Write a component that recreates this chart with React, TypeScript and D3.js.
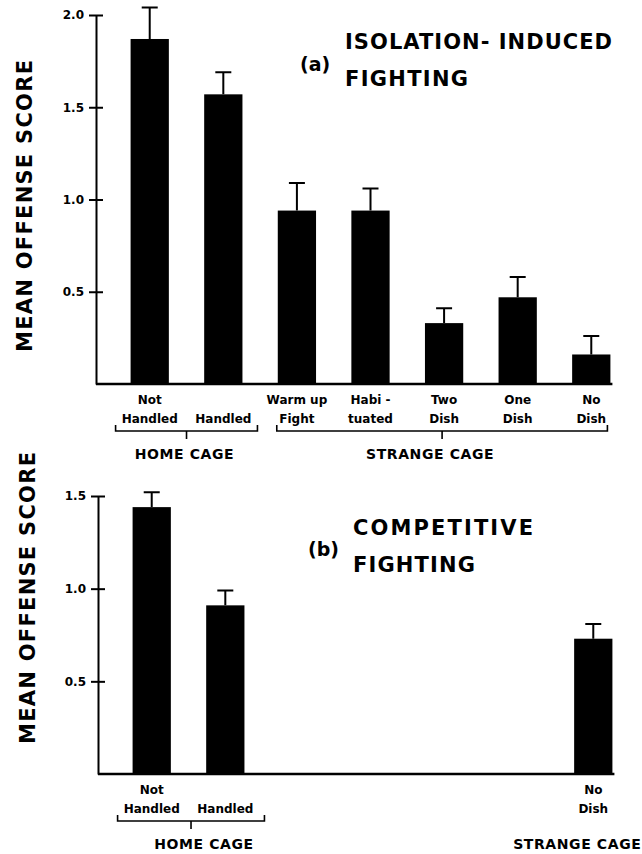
import React, { useEffect, useRef } from 'react';
import * as d3 from 'd3';

// the seven slots along the x axis (both panels share them)
const categories = ['Not Handled', 'Handled', 'Warm up Fight', 'Habituated', 'Two Dish', 'One Dish', 'No Dish'];
const categoryLines: Record<string, string[]> = {
  'Not Handled': ['Not', 'Handled'],
  'Handled': ['', 'Handled'],
  'Warm up Fight': ['Warm up', 'Fight'],
  'Habituated': ['Habi -', 'tuated'],
  'Two Dish': ['Two', 'Dish'],
  'One Dish': ['One', 'Dish'],
  'No Dish': ['No', 'Dish'],
};

// (a) isolation-induced fighting
const isolationCats = categories;
const isolationMeans = [1.87, 1.57, 0.94, 0.94, 0.33, 0.47, 0.16];
const isolationErrors = [0.17, 0.12, 0.15, 0.12, 0.08, 0.11, 0.10];
const isolationTicks = [0.5, 1.0, 1.5, 2.0];

// (b) competitive fighting
const competitiveCats = ['Not Handled', 'Handled', 'No Dish'];
const competitiveMeans = [1.44, 0.91, 0.73];
const competitiveErrors = [0.08, 0.08, 0.08];
const competitiveTicks = [0.5, 1.0, 1.5];

const FONT = '"DejaVu Sans", "Liberation Sans", sans-serif';

interface Group {
  name: string;
  first: string;
  last: string;
  bracket: boolean;
  padL: number;
  padR: number;
  shift: number;
}

interface Panel {
  cats: string[];
  means: number[];
  errs: number[];
  ticks: number[];
  yMax: number;
  axisX: number;
  yZero: number;
  yTop: number;
  letter: string;
  titleLines: string[];
  titleLens: number[];
  titleX: number;
  titleY: number;
  letterY: number;
  yTitleX: number;
  yTitleY: number;
  groups: Group[];
}

const panelA: Panel = {
  cats: isolationCats,
  means: isolationMeans,
  errs: isolationErrors,
  ticks: isolationTicks,
  yMax: 2,
  axisX: 96,
  yZero: 384,
  yTop: 15,
  letter: '(a)',
  titleLines: ['ISOLATION- INDUCED', 'FIGHTING'],
  titleLens: [267, 123],
  titleX: 345,
  titleY: 49,
  letterY: 71,
  yTitleX: 32,
  yTitleY: 206,
  groups: [
    { name: 'HOME CAGE', first: 'Not Handled', last: 'Handled', bracket: true, padL: 15, padR: 15, shift: -2 },
    { name: 'STRANGE CAGE', first: 'Warm up Fight', last: 'No Dish', bracket: true, padL: 1, padR: -3, shift: -12 },
  ],
};

const panelB: Panel = {
  cats: competitiveCats,
  means: competitiveMeans,
  errs: competitiveErrors,
  ticks: competitiveTicks,
  yMax: 1.5,
  axisX: 98,
  yZero: 774,
  yTop: 496,
  letter: '(b)',
  titleLines: ['COMPETITIVE', 'FIGHTING'],
  titleLens: [180, 122],
  titleX: 353,
  titleY: 535,
  letterY: 556,
  yTitleX: 35,
  yTitleY: 598,
  groups: [
    { name: 'HOME CAGE', first: 'Not Handled', last: 'Handled', bracket: true, padL: 15, padR: 20, shift: 13 },
    { name: 'STRANGE CAGE', first: 'No Dish', last: 'No Dish', bracket: false, padL: 0, padR: 0, shift: -16 },
  ],
};

function drawPanel(svg: any, p: Panel) {
  const x = d3.scaleBand<string>()
    .domain(categories)
    .range([p.axisX, p.axisX + 549])
    .paddingInner(0.48)
    .paddingOuter(0.47);
  const y = d3.scaleLinear().domain([0, p.yMax]).range([p.yZero, p.yTop]);
  const bw = x.bandwidth();

  const g = svg.append('g');
  const rows = p.cats.map((c, i) => ({ c, m: p.means[i], e: p.errs[i] }));

  // bars
  g.selectAll('.bar')
    .data(rows)
    .join('rect')
    .attr('class', 'bar')
    .attr('x', (d: any) => x(d.c))
    .attr('y', (d: any) => y(d.m))
    .attr('width', bw)
    .attr('height', (d: any) => y(0) - y(d.m))
    .attr('fill', '#000');

  // error bars (upper half only)
  g.selectAll('.err')
    .data(rows)
    .join('path')
    .attr('class', 'err')
    .attr('fill', 'none')
    .attr('stroke', '#000')
    .attr('stroke-width', 2)
    .attr('d', (d: any) => {
      const cx = (x(d.c) as number) + bw / 2;
      const top = y(d.m + d.e);
      return `M${cx},${y(d.m)}V${top}M${cx - 8},${top}H${cx + 8}`;
    });

  // y axis, ticks cross the line
  const axis = d3.axisLeft(y)
    .tickValues(p.ticks)
    .tickFormat(d3.format('.1f'))
    .tickSizeOuter(0)
    .tickSizeInner(7);
  const ag = g.append('g')
    .attr('transform', `translate(${p.axisX},0)`)
    .call(axis)
    .attr('font-family', FONT)
    .attr('font-size', 12);
  ag.select('.domain').attr('stroke-width', 2);
  ag.selectAll('.tick line').attr('x1', 7).attr('stroke-width', 2);
  ag.selectAll('.tick text').attr('x', -12).attr('font-weight', 'bold');

  // baseline
  const lastCat = p.cats[p.cats.length - 1];
  g.append('line')
    .attr('x1', p.axisX)
    .attr('x2', (x(lastCat) as number) + bw + 2)
    .attr('y1', y(0))
    .attr('y2', y(0))
    .attr('stroke', '#000')
    .attr('stroke-width', 2.5);

  // category labels
  p.cats.forEach((c) => {
    const cx = (x(c) as number) + bw / 2;
    categoryLines[c].forEach((line, j) => {
      if (!line) return;
      g.append('text')
        .attr('x', cx)
        .attr('y', y(0) + (j === 0 ? 20 : 39))
        .attr('text-anchor', 'middle')
        .attr('font-family', FONT)
        .attr('font-weight', 'bold')
        .attr('font-size', 12)
        .text(line);
    });
  });

  // brackets and group labels
  const by = y(0) + 47;
  p.groups.forEach((gr) => {
    const l = (x(gr.first) as number) - gr.padL;
    const r = (x(gr.last) as number) + bw + gr.padR;
    const mid = (l + r) / 2;
    if (gr.bracket) {
      g.append('path')
        .attr('fill', 'none')
        .attr('stroke', '#000')
        .attr('stroke-width', 1.6)
        .attr('d', `M${l},${by - 6}V${by}H${r}V${by - 6}M${mid},${by}V${by + 8}`);
    }
    g.append('text')
      .attr('x', mid + gr.shift)
      .attr('y', y(0) + 75)
      .attr('text-anchor', 'middle')
      .attr('font-family', FONT)
      .attr('font-weight', 'bold')
      .attr('font-size', 14)
      .attr('letter-spacing', 0.6)
      .text(gr.name);
  });

  // panel title
  g.append('text')
    .attr('x', p.titleX - 45)
    .attr('y', p.letterY)
    .attr('font-family', FONT)
    .attr('font-weight', 'bold')
    .attr('font-size', 19)
    .text(p.letter);
  p.titleLines.forEach((t, i) => {
    g.append('text')
      .attr('x', p.titleX)
      .attr('y', p.titleY + i * 37)
      .attr('font-family', FONT)
      .attr('font-weight', 'bold')
      .attr('font-size', 21)
      .attr('textLength', p.titleLens[i])
      .attr('lengthAdjust', 'spacing')
      .text(t);
  });

  // y axis title
  g.append('text')
    .attr('transform', `translate(${p.yTitleX},${p.yTitleY}) rotate(-90)`)
    .attr('text-anchor', 'middle')
    .attr('font-family', FONT)
    .attr('font-weight', 'bold')
    .attr('font-size', 21)
    .attr('textLength', 292)
    .attr('lengthAdjust', 'spacing')
    .text('MEAN OFFENSE SCORE');
}

export default function App() {
  const svgRef = useRef() as React.RefObject<SVGSVGElement>;

  useEffect(() => {
    const svg = d3.select(svgRef.current);
    svg.selectAll('*').remove();
    svg.append('rect').attr('width', 642).attr('height', 854).attr('fill', '#fff');
    drawPanel(svg, panelA);
    drawPanel(svg, panelB);
  }, []);

  return (
    <svg
      ref={svgRef}
      width={642}
      height={854}
      style={{ position: 'absolute', left: 0, top: 0, background: '#fff' }}
    />
  );
}
